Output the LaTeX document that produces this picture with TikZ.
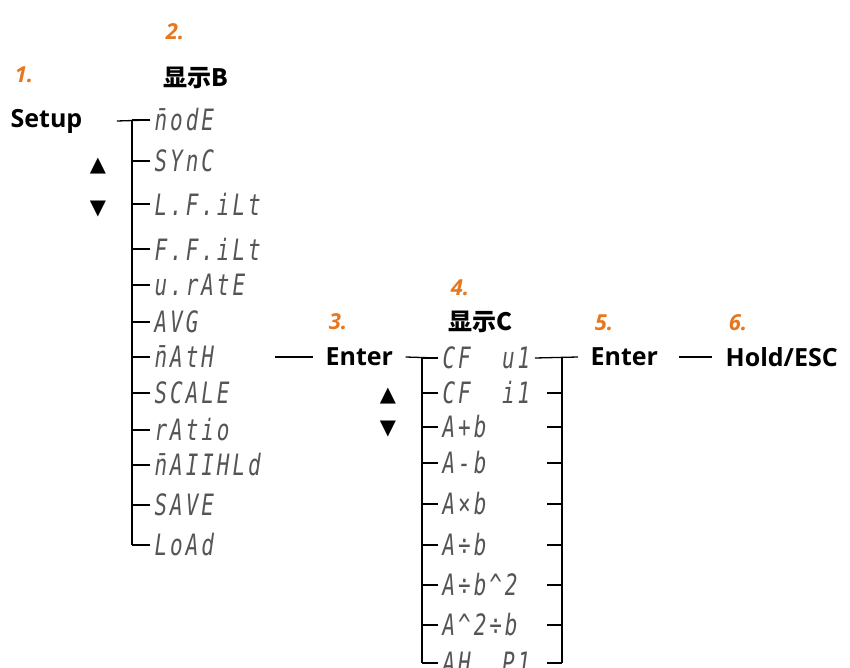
\documentclass[tikz,border=0pt]{standalone}
\usepackage{fontspec}
\usepackage{graphicx}
\setmainfont{Open Sans}
\newfontfamily\cjkfont{Noto Sans CJK SC}
\newfontfamily\segfont[LetterSpace=14]{DejaVu Sans Mono}
\newfontfamily\symfont{DejaVu Sans}
\usetikzlibrary{positioning}
\definecolor{numorange}{RGB}{232,118,28}
\definecolor{seggray}{RGB}{85,85,85}
% display text: tall, narrow, slanted
\newcommand\segtext[1]{\scalebox{1}[1.4]{\segfont\itshape #1}}
\newcommand\segbarn{\rlap{¯}n}

\begin{document}
\begin{tikzpicture}[x=1pt, y=-1pt, line width=1.3pt,
    keylabel/.style={font=\fontsize{25}{28}\selectfont\bfseries, inner sep=0pt},
    numlabel/.style={font=\fontsize{22}{24}\selectfont\bfseries\itshape, text=numorange, inner sep=0pt},
    headlabel/.style={font=\fontsize{24}{26}\selectfont\cjkfont\bfseries, inner sep=0pt},
    segitem/.style={font=\fontsize{21}{24}\selectfont, text=seggray, anchor=west, inner xsep=4pt, inner ysep=1pt},
    arrowsym/.style={font=\fontsize{21}{24}\selectfont\symfont, inner sep=0pt}]
    \useasboundingbox (0,0) rectangle (850,668);

    % step numbers and headings
    \node[numlabel] (n1) at (24,75) {1.};
    \node[numlabel] (n2) at (175,32) {2.};
    \node[numlabel] (n3) at (338,322) {3.};
    \node[numlabel] (n4) at (460,288) {4.};
    \node[numlabel] (n5) at (604,323) {5.};
    \node[numlabel] (n6) at (738,323) {6.};
    \node[headlabel, anchor=west] (headB) at (163,78) {显示B};
    \node[headlabel, anchor=west] (headC) at (448,322) {显示C};

    % keys
    \node[keylabel, anchor=west] (setup) at (10,121) {Setup};
    \node[keylabel, anchor=west, inner xsep=12pt] (enterA) at (313,357) {Enter};
    \node[keylabel, anchor=west, inner xsep=12pt] (enterB) at (578,357) {Enter};
    \node[keylabel, anchor=west, inner xsep=13pt] (hold) at (712,357) {Hold/ESC};
    \node[arrowsym] (upB) at (98,166) {▲};
    \node[arrowsym] (downB) at (98,209) {▼};
    \node[arrowsym] (upC) at (388,396) {▲};
    \node[arrowsym] (downC) at (388,429) {▼};

    % menu B
    \coordinate (trunkB) at (132,0);
    \foreach \name/\y/\txt in {b1/120/{\segbarn odE}, b2/161/SYnC, b3/204/L.F.iLt,
        b4/249/F.F.iLt, b5/285/u.rAtE, b6/322/AVG, b7/357/{\segbarn AtH},
        b8/393/SCALE, b9/430/rAtio, b10/465/{\segbarn AIIHLd}, b11/505/SAVE,
        b12/545/LoAd}
    {
        \node[segitem] (\name) at (150,\y) {\segtext{\txt}};
        \draw (trunkB |- \name.west) -- (\name.west);
    }
    \draw (trunkB |- b1.west) -- (trunkB |- b12.west);
    \draw (setup.east) ++(34,0) -- (b1.west);
    \coordinate (mathout) at (275,357);
    \draw (mathout) -- (enterA.west);

    % menu C
    \coordinate (trunkC) at (422,0);
    \coordinate (trunkD) at (562,0);
    \foreach \name/\y/\txt in {c1/358/{CF\ \ u1}, c2/393/{CF\ \ i1}, c3/427/A+b,
        c4/463/A-b, c5/504/A×b, c6/545/A÷b, c7/585/{A÷b\textasciicircum2},
        c8/625/{A\textasciicircum2÷b}, c9/663/{AH\ \ P1}}
    {
        \node[segitem] (\name) at (438,\y) {\segtext{\txt}};
        \draw (trunkC |- \name.west) -- (\name.west);
    }
    \foreach \name in {c2,c3,c4,c5,c6,c7,c8,c9}
        \draw (trunkD |- \name.west) -- ++(-15,0);
    \draw (trunkC |- c1.west) -- (trunkC |- c9.west);
    \draw (trunkD |- c1.west) -- (trunkD |- c9.west);
    \draw (enterA.east) -- (c1.west);
    \draw (c1.east) -- (enterB.west);
    \draw ([xshift=8pt]enterB.east) -- (hold.west);
\end{tikzpicture}
\end{document}
